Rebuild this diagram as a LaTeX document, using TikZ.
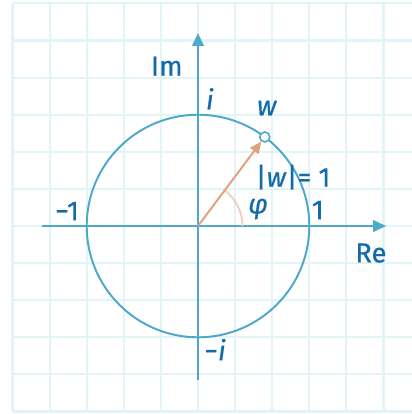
\documentclass[tikz,border=0pt]{standalone}
\usepackage{fontspec}
\setmainfont{Fira Sans}[FakeBold=0.6, AutoFakeBold=0.6]
\usetikzlibrary{arrows.meta}
\definecolor{gitter}{RGB}{225,244,248}
\definecolor{achse}{RGB}{78,168,200}
\definecolor{schrift}{RGB}{18,108,172}
\definecolor{zeiger}{RGB}{226,160,126}
\definecolor{bogen}{RGB}{240,208,192}

\begin{document}
\begin{tikzpicture}[
    lbl/.style={text=schrift, font=\fontsize{21}{24}\selectfont\bfseries, inner sep=0pt},
    axis/.style={achse, line width=1.6pt, -{Triangle[length=10pt, width=9pt]}},
    dot/.style={circle, draw=achse, fill=white, line width=1.2pt, minimum size=0.27cm, inner sep=0pt},
  ]
    \useasboundingbox (-5.337,-5.067) rectangle (5.768,6.092);
    % grid
    \foreach \i in {-5,...,5} {
        \draw[gitter, line width=1.6pt] (\i,-5) -- (\i,6);
    }
    \foreach \j in {-5,...,6} {
        \draw[gitter, line width=1.6pt] (-5,\j) -- (5.77,\j);
    }
    \coordinate (O) at (0,0);
    \coordinate (xl) at (-4.2,0);
    \coordinate (xr) at (5.07,0);
    \coordinate (yb) at (0,-4.15);
    \coordinate (yt) at (0,5.2);
    \draw[axis] (xl) -- (xr);
    \draw[axis] (yb) -- (yt);
    % unit circle
    \draw[achse, line width=1.5pt] (O) circle (3);
    % angle phi
    \draw[bogen, line width=1.5pt] (1.2,0) arc[start angle=0, end angle=53.13, radius=1.2];
    \node[dot] (w) at (1.8,2.4) {};
    \draw[zeiger, line width=1.5pt, -{Triangle[length=9pt, width=8pt]}] (O) -- (w);
    \node[lbl] (im) at (-0.84,4.31) {Im};
    \node[lbl] (re) at (4.66,-0.73) {Re};
    \node[lbl] (pi) at (0.32,3.43) {\textit{i}};
    \node[lbl] (mi) at (0.46,-3.33) {−\textit{i}};
    \node[lbl] (p1) at (3.23,0.43) {1};
    \node[lbl] (m1) at (-3.53,0.40) {−1};
    \node[lbl] (wl) at (1.86,3.18) {\textit{w}};
    \node[lbl] (betrag) at (2.56,1.32) {|\textit{w}|= 1};
    \node[lbl] (phi) at (1.62,0.46) {\textit{φ}};
\end{tikzpicture}
\end{document}
